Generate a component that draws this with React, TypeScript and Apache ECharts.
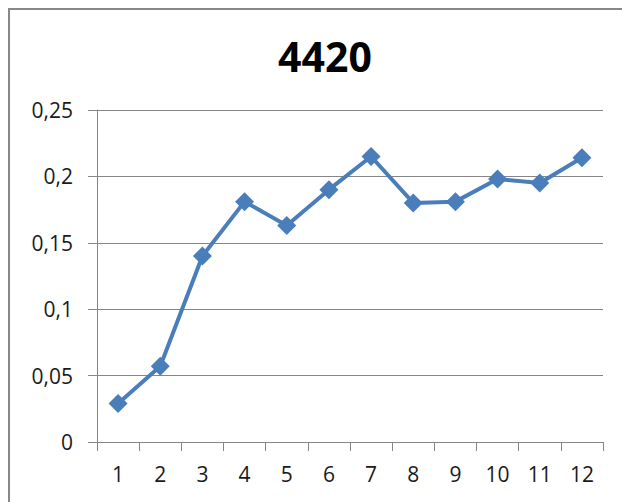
import React, { useEffect, useRef } from "react";
import * as echarts from "echarts";

const titleText = "4420";
const categories = ["1", "2", "3", "4", "5", "6", "7", "8", "9", "10", "11", "12"];
const values = [0.029, 0.057, 0.14, 0.181, 0.163, 0.19, 0.215, 0.18, 0.181, 0.198, 0.195, 0.214];
const yMin = 0;
const yMax = 0.25;
const yInterval = 0.05;

export default function App() {
  const ref = useRef<HTMLDivElement>(null);
  useEffect(() => {
    document.documentElement.style.overflow = "hidden";
    document.body.style.overflow = "hidden";
    if (!ref.current) return;
    const chart = echarts.init(ref.current, null, { renderer: "svg" });
    const font = "'Open Sans', 'Noto Sans', sans-serif";
    chart.setOption({
      animation: false,
      backgroundColor: "#ffffff",
      title: {
        text: titleText,
        left: 312,
        top: 22,
        textAlign: "center",
        textStyle: { fontFamily: font, fontWeight: "bold", fontSize: 41, color: "#000000" },
      },
      graphic: [
        { type: "rect", shape: { x: 0, y: 0, width: 2, height: 494 }, style: { fill: "#888888" } },
        { type: "rect", shape: { x: 0, y: 0, width: 614, height: 2 }, style: { fill: "#888888" } },
      ],
      grid: { left: 89, right: 19, top: 102, bottom: 60, containLabel: false },
      xAxis: {
        type: "category",
        data: categories,
        boundaryGap: true,
        axisLine: { show: true, lineStyle: { color: "#868686", width: 1 } },
        axisTick: { show: true, length: 9, alignWithLabel: false, lineStyle: { color: "#868686" } },
        axisLabel: { color: "#1a1a1a", fontFamily: font, fontSize: 21, margin: 21 },
        splitLine: { show: false },
      },
      yAxis: {
        type: "value",
        min: yMin,
        max: yMax,
        interval: yInterval,
        axisLine: { show: true, lineStyle: { color: "#868686", width: 1 } },
        axisTick: { show: true, length: 9, lineStyle: { color: "#868686" } },
        axisLabel: {
          color: "#1a1a1a",
          fontFamily: font,
          fontSize: 21,
          margin: 24,
          formatter: (v: number) => String(Number(v.toFixed(2))).replace(".", ","),
        },
        splitLine: { show: true, lineStyle: { color: "#868686", width: 1 } },
      },
      series: [
        {
          type: "line",
          data: values,
          symbol: "diamond",
          symbolSize: 19,
          lineStyle: { color: "#4a7ebb", width: 4 },
          itemStyle: { color: "#4a7ebb" },
        },
      ],
    });
    return () => chart.dispose();
  }, []);
  return (
    <div
      ref={ref}
      style={{ position: "fixed", left: 8, top: 8, width: 614, height: 494 }}
    />
  );
}
